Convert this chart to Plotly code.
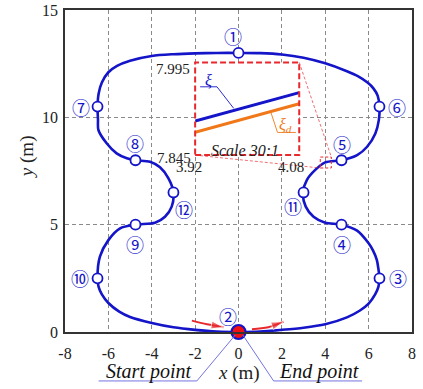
import plotly.graph_objects as go

# ---------------------------------------------------------------- data
# Vehicle trajectory (m), traversed from the start point 2 -> 3 -> ... -> 10 -> 2
path_x = [0, 1, 2, 3, 4, 5, 5.6, 6.0, 6.3, 6.45, 6.5,
          6.45, 6.38, 6.2, 6.0, 5.47, 4.75,
          4.0, 3.46, 3.1, 2.97,
          3.15, 3.54, 4.0, 4.75,
          5.47, 5.93, 6.31, 6.47, 6.5,
          6.42, 6.22, 5.95, 5.5, 5.0, 4.0, 3.0, 2.0, 1.0, 0.0,
          -1.0, -2.0, -3.0, -4.0, -5.0, -5.6, -6.0, -6.3, -6.45, -6.5,
          -6.48, -6.46, -6.08, -5.62, -5.15, -4.75,
          -4.08, -3.62, -3.23, -3.0,
          -3.08, -3.39, -3.85, -4.75,
          -5.46, -6.0, -6.39, -6.5,
          -6.45, -6.3, -6.0, -5.5, -5.0, -4.0, -3.0, -2.0, -1.0, 0.0]
path_y = [0, 0.02, 0.1, 0.2, 0.36, 0.68, 1.0, 1.32, 1.75, 2.1, 2.5,
          2.95, 3.35, 3.8, 4.13, 4.72, 5.0,
          5.09, 5.37, 5.84, 6.5,
          7.08, 7.55, 7.9, 8.0,
          8.24, 8.63, 9.25, 9.87, 10.5,
          11.0, 11.35, 11.62, 11.92, 12.15, 12.52, 12.78, 12.93, 12.99, 13.0,
          13.0, 12.98, 12.94, 12.86, 12.64, 12.4, 12.1, 11.62, 11.1, 10.5,
          9.9, 9.41, 8.79, 8.32, 8.09, 8.0,
          7.93, 7.67, 7.16, 6.5,
          5.84, 5.37, 5.09, 5.0,
          4.83, 4.28, 3.51, 2.5,
          2.1, 1.75, 1.35, 0.95, 0.7, 0.42, 0.22, 0.1, 0.02, 0.0]

# Numbered waypoints
wp_labels = ["①", "②", "③", "④", "⑤", "⑥", "⑦", "⑧", "⑨", "⑩", "⑪", "⑫"]
wp_x = [0, 0, 6.5, 4.75, 4.75, 6.5, -6.5, -4.75, -4.75, -6.5, 3.0, -3.0]
wp_y = [13, 0, 2.5, 5, 8, 10.5, 10.5, 8, 5, 2.5, 6.5, 6.5]

# Magnified detail (scale 30:1): actual vs desired trajectory
zoom_x = [3.92, 4.08]
zoom_y_actual = [7.900, 7.946]
zoom_y_desired = [7.882, 7.928]
zoom_xrange = [3.92, 4.08]
zoom_yrange = [7.845, 7.995]

# Direction-of-travel arrows near the start point
arrow_in_x = [-2.15, -1.45, -0.69]
arrow_in_y = [0.53, 0.36, 0.22]
arrow_out_x = [0.62, 1.37, 2.08]
arrow_out_y = [0.13, 0.22, 0.48]

x_ticks = [-8, -6, -4, -2, 0, 2, 4, 6, 8]
x_tick_text = ["-8", "-6", "-4", "-2", "0", "2", "4", "6", "8"]
y_ticks = [0, 5, 10, 15]
y_tick_text = ["0", "5", "10", "15"]

# ---------------------------------------------------------------- styles
SERIF = "Liberation Serif"
CIRCLED = "Noto Sans CJK SC"
BLUE = "#1414C8"
ORANGE = "#F07818"
RED = "#E8282C"
LEADER = "#7474E0"
TXT = "#222222"

# label offsets (px) of each circled number from its waypoint
label_shift = [(-6, 17), (-11, 16), (19, 0), (0, -19), (0, 16), (18, 0),
               (-17, 0), (0, 17), (0, -19), (-18, 0), (-11, -14), (11, -17)]

# inset box drawn on the main axes (data units) and the source region box
INSET_X = (-2.0, 2.8)
INSET_Y = (8.24, 12.56)
SRC_X = (3.77, 4.28)
SRC_Y = (7.64, 8.15)
X_RANGE = [-8, 8]
Y_RANGE = [0, 15]

fig = go.Figure()

# main trajectory
fig.add_trace(go.Scatter(
    x=path_x, y=path_y, mode="lines",
    line=dict(color=BLUE, width=2.6, shape="spline", smoothing=0.8),
    hoverinfo="skip", showlegend=False))

# waypoint markers (start point drawn separately)
fig.add_trace(go.Scatter(
    x=[x for i, x in enumerate(wp_x) if i != 1],
    y=[y for i, y in enumerate(wp_y) if i != 1],
    mode="markers",
    marker=dict(size=10, color="white", line=dict(color=BLUE, width=1.8)),
    hoverinfo="skip", showlegend=False, cliponaxis=False))
fig.add_trace(go.Scatter(
    x=[wp_x[1]], y=[wp_y[1]], mode="markers",
    marker=dict(size=14, color="#F01010", line=dict(color=BLUE, width=2.2)),
    hoverinfo="skip", showlegend=False, cliponaxis=False))

# direction arrows
for ax_, ay_ in [(arrow_in_x, arrow_in_y), (arrow_out_x, arrow_out_y)]:
    fig.add_trace(go.Scatter(
        x=ax_, y=ay_, mode="lines+markers",
        line=dict(color=RED, width=2, shape="spline"),
        marker=dict(symbol="arrow", size=[0, 0, 13], angleref="previous",
                    color=RED),
        hoverinfo="skip", showlegend=False))

# magnified view
fig.add_trace(go.Scatter(
    x=zoom_x, y=zoom_y_desired, mode="lines", xaxis="x2", yaxis="y2",
    line=dict(color=ORANGE, width=3), hoverinfo="skip", showlegend=False))
fig.add_trace(go.Scatter(
    x=zoom_x, y=zoom_y_actual, mode="lines", xaxis="x2", yaxis="y2",
    line=dict(color=BLUE, width=3), hoverinfo="skip", showlegend=False))

shapes = [
    # inset frame
    dict(type="rect", xref="x", yref="y", x0=INSET_X[0], x1=INSET_X[1],
         y0=INSET_Y[0], y1=INSET_Y[1],
         line=dict(color=RED, width=2, dash="6px,3px")),
    # source region
    dict(type="rect", xref="x", yref="y", x0=SRC_X[0], x1=SRC_X[1],
         y0=SRC_Y[0], y1=SRC_Y[1],
         line=dict(color=RED, width=1, dash="3px,2px")),
    # connectors
    dict(type="line", xref="x", yref="y", x0=INSET_X[1], y0=INSET_Y[1],
         x1=SRC_X[1], y1=SRC_Y[1],
         line=dict(color="rgba(232,40,44,0.75)", width=0.9, dash="3px,2px")),
    dict(type="line", xref="x", yref="y", x0=INSET_X[0], y0=INSET_Y[0],
         x1=SRC_X[0], y1=SRC_Y[0],
         line=dict(color="rgba(232,40,44,0.75)", width=0.9, dash="3px,2px")),
    # leader of xi
    dict(type="path", xref="x2", yref="y2",
         path="M 3.9277 7.9555 L 3.9536 7.9555 L 3.9793 7.9206",
         line=dict(color=BLUE, width=0.9)),
    # leader of xi_d
    dict(type="path", xref="x2", yref="y2",
         path="M 4.0362 7.915 L 4.0466 7.8817 L 4.0749 7.8817",
         line=dict(color=ORANGE, width=0.9)),
    # start / end point leaders
    dict(type="path", xref="x", yref="paper",
         path="M -0.15 -0.0093 L -1.92 -0.152 L -6.45 -0.152",
         line=dict(color=LEADER, width=1)),
    dict(type="path", xref="x", yref="paper",
         path="M 0.2 -0.0093 L 1.62 -0.152 L 5.7 -0.152",
         line=dict(color=LEADER, width=1)),
]


def note(x, y, text, xref, yref, size, color=TXT, family=SERIF, **kw):
    d = dict(x=x, y=y, xref=xref, yref=yref, text=text, showarrow=False,
             xanchor="center", yanchor="middle",
             font=dict(family=family, size=size, color=color))
    d.update(kw)
    return d


annotations = []
for lab, x, y, (dx, dy) in zip(wp_labels, wp_x, wp_y, label_shift):
    annotations.append(note(x, y, lab, "x", "y", 18, color=BLUE,
                            family=CIRCLED, xshift=dx, yshift=dy))

annotations += [
    note(zoom_xrange[0], zoom_yrange[1], "7.995", "x2", "y2", 15,
         xanchor="right", xshift=-3, yshift=-7),
    note(zoom_xrange[0], zoom_yrange[0], "7.845", "x2", "y2", 15,
         xanchor="right", xshift=-2, yshift=-3),
    note(zoom_xrange[0], zoom_yrange[0], "3.92", "x2", "y2", 15,
         xshift=-6, yshift=-12),
    note(zoom_xrange[1], zoom_yrange[0], "4.08", "x2", "y2", 15,
         xshift=-8, yshift=-12),
    note(3.9974, 7.853, "<i>Scale 30:1</i>", "x2", "y2", 16),
    note(3.9406, 7.9664, "<i>ξ</i>", "x2", "y2", 16, color=BLUE),
    note(4.0594, 7.8935, "<i>ξ<sub>d</sub></i>", "x2", "y2", 16, color=ORANGE),
    # axis titles
    note(0, -0.127, "<i>x</i> (m)", "x", "paper", 19),
    note(-0.1095, 0.543, "<i>y</i> (m)", "paper", "paper", 19, textangle=-90),
    # start / end captions
    note(-4.17, -0.124, "<i>Start point</i>", "x", "paper", 20, color="#111"),
    note(3.73, -0.124, "<i>End point</i>", "x", "paper", 20, color="#111"),
]

axis_common = dict(
    showline=True, linecolor="#333", linewidth=1.5, mirror=True,
    showgrid=True, gridcolor="#8a8a8a", gridwidth=1, griddash="4px,3px",
    zeroline=False, automargin=False,
    tickfont=dict(family=SERIF, size=16, color=TXT),
)

fig.update_layout(
    width=423, height=389, autosize=False,
    margin=dict(l=65, r=11, t=10, b=57),
    paper_bgcolor="white", plot_bgcolor="white",
    xaxis=dict(range=X_RANGE, tickvals=x_ticks, ticktext=x_tick_text,
               ticks="outside", ticklen=6, tickcolor="rgba(0,0,0,0)",
               **axis_common),
    yaxis=dict(range=Y_RANGE, tickvals=y_ticks, ticktext=y_tick_text,
               ticks="outside", ticklen=2, tickcolor="rgba(0,0,0,0)",
               **axis_common),
    xaxis2=dict(domain=[(INSET_X[0] - X_RANGE[0]) / (X_RANGE[1] - X_RANGE[0]),
                        (INSET_X[1] - X_RANGE[0]) / (X_RANGE[1] - X_RANGE[0])],
                range=zoom_xrange, anchor="y2", visible=False),
    yaxis2=dict(domain=[(INSET_Y[0] - Y_RANGE[0]) / (Y_RANGE[1] - Y_RANGE[0]),
                        (INSET_Y[1] - Y_RANGE[0]) / (Y_RANGE[1] - Y_RANGE[0])],
                range=zoom_yrange, anchor="x2", visible=False),
    shapes=shapes,
    annotations=annotations,
    showlegend=False,
)

fig.write_html("out.html")
